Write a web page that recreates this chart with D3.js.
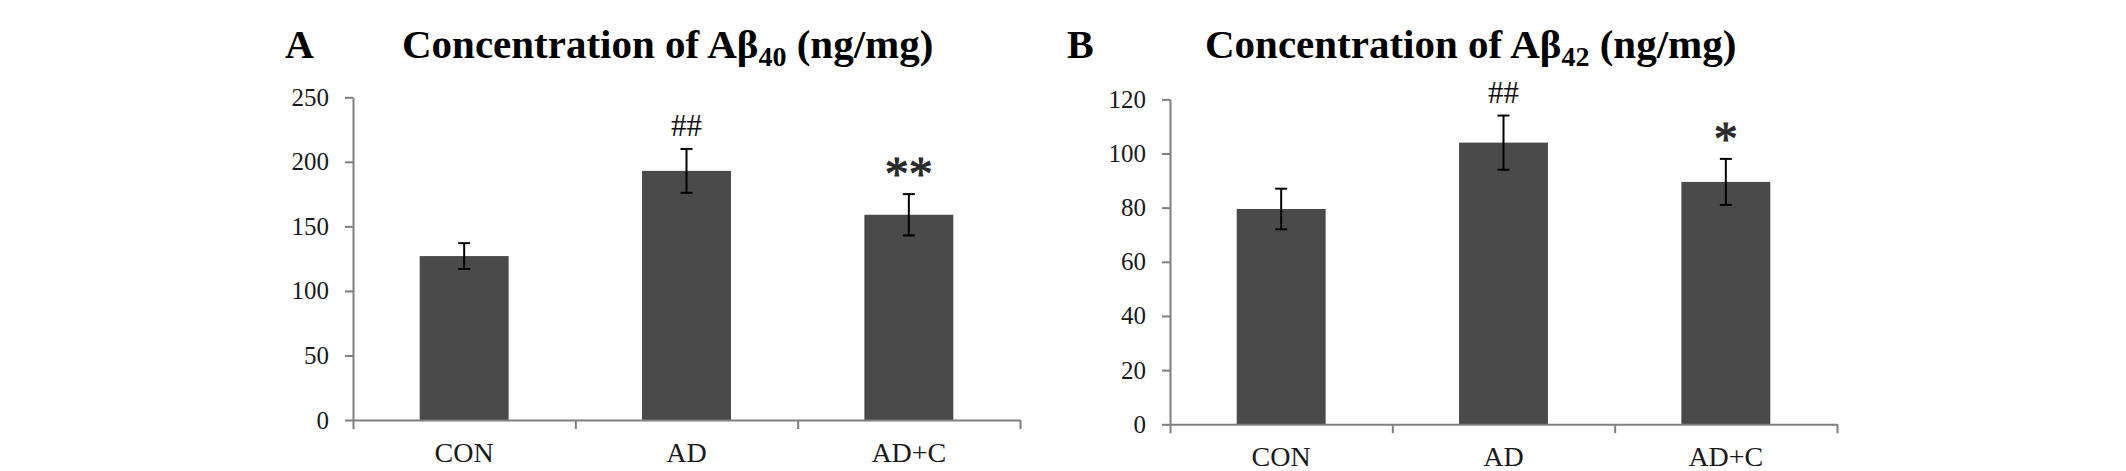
<!DOCTYPE html>
<html>
<head>
<meta charset="utf-8">
<script src="https://cdn.jsdelivr.net/npm/d3@7"></script>
<style>
    body { margin: 0; background: #fff; }
    svg { display: block; font-family: "Liberation Serif", "Times New Roman", serif; }
</style>
</head>
<body>
<svg id="chart" width="2126" height="471"></svg>
<script>
// Groups on the x axis
const categories = ["CON", "AD", "AD+C"];

// Panel A: Abeta40 (ng/mg)
const ab40Mean = [127, 193, 159];
const ab40Err = [10, 17, 16];
const ab40Ticks = [0, 50, 100, 150, 200, 250];
const ab40Marks = ["", "##", "**"];

// Panel B: Abeta42 (ng/mg)
const ab42Mean = [79.5, 104, 89.5];
const ab42Err = [7.5, 10, 8.5];
const ab42Ticks = [0, 20, 40, 60, 80, 100, 120];
const ab42Marks = ["", "##", "*"];

const serif = "Liberation Serif, Times New Roman, serif";
const svg = d3.select("#chart");

function drawPanel(p) {
    const g = svg.append("g");

    const x = d3.scaleBand()
        .domain(categories)
        .range([p.left, p.right])
        .paddingInner(0.6)
        .paddingOuter(0.3);
    // edges between the groups, for the small x ticks
    const xEdge = d3.scaleLinear()
        .domain([0, categories.length])
        .range([p.left, p.right]);
    const y = d3.scaleLinear()
        .domain([0, d3.max(p.ticks)])
        .range([p.bottom, p.top]);

    // y axis
    const yAxis = g.append("g")
        .attr("transform", "translate(" + p.left + ",0)")
        .call(d3.axisLeft(y).tickValues(p.ticks).tickSize(8).tickSizeOuter(0).tickPadding(16))
        .attr("font-family", serif)
        .attr("font-size", 25);
    yAxis.selectAll("path, line").attr("stroke", "#7f7f7f").attr("stroke-width", 2);
    yAxis.selectAll("text").attr("fill", "#1a1a1a");

    // bars
    g.selectAll(".bar")
        .data(p.means)
        .enter()
        .append("rect")
            .attr("class", "bar")
            .attr("x", (d, i) => x(categories[i]))
            .attr("y", d => y(d))
            .attr("width", x.bandwidth())
            .attr("height", d => p.bottom - y(d))
            .attr("fill", "#4a4a4a");

    // x axis line with ticks at the group edges
    const xAxis = g.append("g")
        .attr("transform", "translate(0," + p.bottom + ")")
        .call(d3.axisBottom(xEdge).tickValues(d3.range(categories.length + 1)).tickFormat("").tickSize(9).tickSizeOuter(0));
    xAxis.selectAll("path, line").attr("stroke", "#7f7f7f").attr("stroke-width", 2);

    // category labels
    const xLabels = g.append("g")
        .attr("transform", "translate(0," + p.bottom + ")")
        .call(d3.axisBottom(x).tickSize(0).tickPadding(22))
        .attr("font-family", serif)
        .attr("font-size", 28);
    xLabels.select(".domain").remove();
    xLabels.selectAll("text").attr("fill", "#1a1a1a");

    // error bars
    const cx = i => x(categories[i]) + x.bandwidth() / 2;
    const err = g.selectAll(".err")
        .data(p.means)
        .enter()
        .append("g")
            .attr("class", "err")
            .attr("stroke", "#000")
            .attr("stroke-width", 2);
    err.append("line")
        .attr("x1", (d, i) => cx(i)).attr("x2", (d, i) => cx(i))
        .attr("y1", (d, i) => y(d - p.errs[i]))
        .attr("y2", (d, i) => y(d + p.errs[i]));
    err.append("line")
        .attr("x1", (d, i) => cx(i) - 6).attr("x2", (d, i) => cx(i) + 6)
        .attr("y1", (d, i) => y(d + p.errs[i])).attr("y2", (d, i) => y(d + p.errs[i]));
    err.append("line")
        .attr("x1", (d, i) => cx(i) - 6).attr("x2", (d, i) => cx(i) + 6)
        .attr("y1", (d, i) => y(d - p.errs[i])).attr("y2", (d, i) => y(d - p.errs[i]));

    // significance marks above the error bars
    g.selectAll(".mark")
        .data(p.marks)
        .enter()
        .append("text")
            .attr("class", "mark")
            .attr("x", (d, i) => cx(i))
            .attr("y", (d, i) => y(p.means[i] + p.errs[i]) - (d.startsWith("#") ? 13 : 4))
            .attr("text-anchor", "middle")
            .attr("fill", d => d.startsWith("#") ? "#111" : "#2a2a2a")
            .attr("stroke", d => d.startsWith("#") ? "none" : "#2a2a2a")
            .attr("stroke-width", 1)
            .style("font-size", d => d.startsWith("#") ? "31px" : "48px")
            .text(d => d);

    // panel letter and title
    g.append("text")
        .attr("x", p.letterX)
        .attr("y", 58)
        .style("font-size", "40px")
        .style("font-weight", "bold")
        .text(p.letter);
    const title = g.append("text")
        .attr("x", p.titleX)
        .attr("y", 58)
        .style("font-size", "41px")
        .style("font-weight", "bold");
    title.append("tspan").text("Concentration of A\u03b2");
    title.append("tspan").attr("dy", 8).style("font-size", "28px").text(p.sub);
    title.append("tspan").attr("dy", -8).text(" (ng/mg)");
}

drawPanel({
    means: ab40Mean, errs: ab40Err, ticks: ab40Ticks, marks: ab40Marks,
    left: 353, right: 1020, top: 97.3, bottom: 420,
    letter: "A", letterX: 285, titleX: 402, sub: "40"
});
drawPanel({
    means: ab42Mean, errs: ab42Err, ticks: ab42Ticks, marks: ab42Marks,
    left: 1170, right: 1837, top: 99.3, bottom: 424.3,
    letter: "B", letterX: 1067, titleX: 1205, sub: "42"
});
</script>
</body>
</html>
